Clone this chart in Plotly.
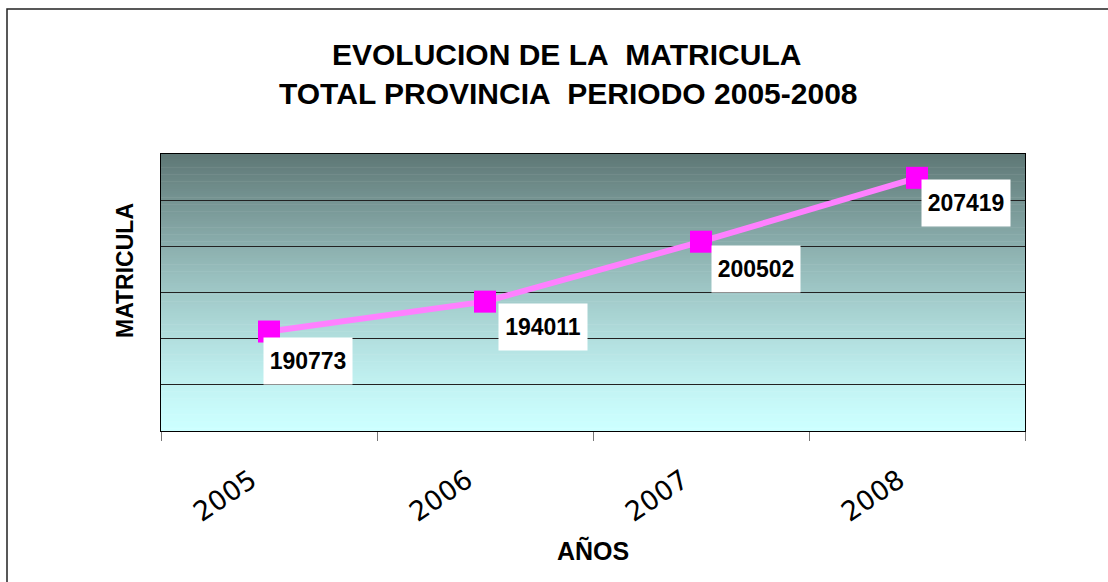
import plotly.graph_objects as go

# ---- data ----
years = ["2005", "2006", "2007", "2008"]
matricula = [190773, 194011, 200502, 207419]
label_texts = ["190773", "194011", "200502", "207419"]

title_line1 = "EVOLUCION DE LA\u00a0\u00a0MATRICULA"
title_line2 = "TOTAL PROVINCIA\u00a0\u00a0PERIODO 2005-2008"
y_title = "MATRICULA"
x_title = "AÑOS"

# ---- layout geometry (pixels) ----
W, H = 1108, 582
L, R, T, B = 161, 83, 154, 151
PW, PH = W - L - R, H - T - B


def px(x):
    return (x - L) / PW


def py(y):
    return (H - B - y) / PH


# label offsets (styling)
label_dx = [39, 58, 55, 49]
label_dy = [-29, -25, -27, -25]

fig = go.Figure()
fig.add_trace(go.Scatter(
    x=years, y=matricula, mode="lines+markers",
    line=dict(color="#ff80ff", width=6),
    marker=dict(symbol="square", size=22, color="#ff00ff"),
    hoverinfo="skip", showlegend=False,
))

shapes = []
# vertical gradient background in plot area
top_c = (94, 119, 117)
bot_c = (204, 255, 255)
N = 120
for i in range(N):
    t0 = i / N
    t1 = (i + 1) / N
    f = ((i + 0.5) / N) ** 1.3  # 0 at bottom, 1 at top
    c = tuple(round(bot_c[k] + (top_c[k] - bot_c[k]) * f) for k in range(3))
    shapes.append(dict(type="rect", xref="x domain", yref="y domain",
                       x0=0, x1=1, y0=t0, y1=t1 + 0.002, layer="below",
                       line=dict(width=0), fillcolor="rgb(%d,%d,%d)" % c))
# outer chart frame
shapes.append(dict(type="rect", xref="paper", yref="paper",
                   x0=px(7), x1=px(W + 20), y0=py(9), y1=py(H + 20),
                   line=dict(color="#222222", width=1.5), fillcolor="rgba(0,0,0,0)"))

annotations = []
for i, (v, txt) in enumerate(zip(matricula, label_texts)):
    annotations.append(dict(
        x=i, y=v, xref="x", yref="y", text="<b>%s</b>" % txt, showarrow=False,
        xanchor="center", yanchor="middle",
        xshift=label_dx[i], yshift=label_dy[i], bgcolor="white",
        width=86, height=44,
        font=dict(family="Liberation Sans, Arial", size=23, color="black"),
    ))

annotations += [
    dict(x=px(566), y=py(54), xref="paper", yref="paper", showarrow=False,
         xanchor="center", yanchor="middle",
         text="<b>%s</b>" % title_line1,
         font=dict(family="Liberation Sans, Arial", size=30, color="black")),
    dict(x=px(568), y=py(93), xref="paper", yref="paper", showarrow=False,
         xanchor="center", yanchor="middle",
         text="<b>%s</b>" % title_line2,
         font=dict(family="Liberation Sans, Arial", size=30, color="black")),
    dict(x=px(125), y=py(271), xref="paper", yref="paper", showarrow=False,
         xanchor="center", yanchor="middle",
         text="<b>%s</b>" % y_title, textangle=-90,
         font=dict(family="Liberation Sans, Arial", size=23, color="black")),
    dict(x=px(593), y=py(550), xref="paper", yref="paper", showarrow=False,
         xanchor="center", yanchor="middle",
         text="<b>%s</b>" % x_title,
         font=dict(family="Liberation Sans, Arial", size=25, color="black")),
]

fig.update_layout(
    width=W, height=H,
    margin=dict(l=L, r=R, t=T, b=B),
    paper_bgcolor="white", plot_bgcolor="rgba(0,0,0,0)",
    shapes=shapes, annotations=annotations,
    showlegend=False,
)
fig.update_xaxes(
    type="category", range=[-0.5, 3.5],
    tickson="boundaries", ticks="outside", ticklen=9, tickcolor="#777777",
    tickangle=-34, showgrid=False, ticklabelstandoff=22, ticklabelshift=-18,
    tickfont=dict(family="DejaVu Sans", size=27, color="black"),
    showline=True, linecolor="black", linewidth=1, mirror=True,
    zeroline=False,
)
fig.update_yaxes(
    range=[180000, 210000], dtick=5000, showticklabels=False,
    showgrid=True, gridcolor="#222222", gridwidth=1,
    showline=True, linecolor="black", linewidth=1, mirror=True,
    zeroline=False, ticks="",
)

fig.write_html(
    "out.html",
    config={"displayModeBar": False},
    post_script="document.body.style.margin='0';document.body.style.overflow='hidden';",
)
